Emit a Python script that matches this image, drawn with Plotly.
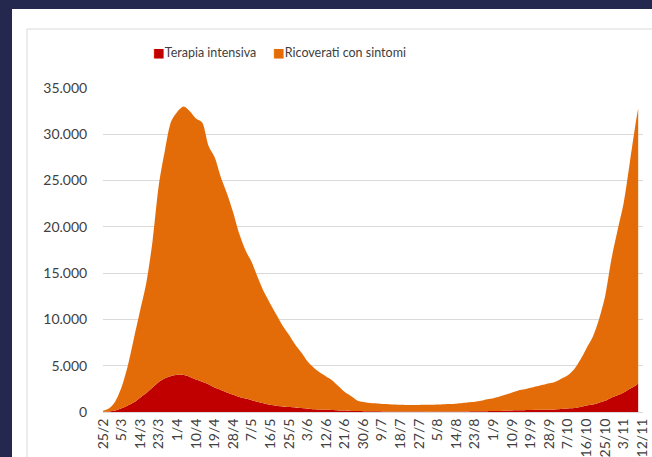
import plotly.graph_objects as go

# ---- data ----
DATES = [
    "2020-02-25", "2020-02-28", "2020-03-02", "2020-03-05", "2020-03-08", "2020-03-11",
    "2020-03-14", "2020-03-17", "2020-03-20", "2020-03-23", "2020-03-26", "2020-03-29",
    "2020-04-01", "2020-04-04", "2020-04-07", "2020-04-10", "2020-04-13", "2020-04-16",
    "2020-04-19", "2020-04-22", "2020-04-25", "2020-04-28", "2020-05-01", "2020-05-04",
    "2020-05-07", "2020-05-10", "2020-05-13", "2020-05-16", "2020-05-19", "2020-05-22",
    "2020-05-25", "2020-05-28", "2020-05-31", "2020-06-03", "2020-06-06", "2020-06-09",
    "2020-06-12", "2020-06-15", "2020-06-18", "2020-06-21", "2020-06-24", "2020-06-27",
    "2020-06-30", "2020-07-03", "2020-07-06", "2020-07-09", "2020-07-12", "2020-07-15",
    "2020-07-18", "2020-07-21", "2020-07-24", "2020-07-27", "2020-07-30", "2020-08-02",
    "2020-08-05", "2020-08-08", "2020-08-11", "2020-08-14", "2020-08-17", "2020-08-20",
    "2020-08-23", "2020-08-26", "2020-08-29", "2020-09-01", "2020-09-04", "2020-09-07",
    "2020-09-10", "2020-09-13", "2020-09-16", "2020-09-19", "2020-09-22", "2020-09-25",
    "2020-09-28", "2020-10-01", "2020-10-04", "2020-10-07", "2020-10-10", "2020-10-13",
    "2020-10-16", "2020-10-19", "2020-10-22", "2020-10-25", "2020-10-28", "2020-10-31",
    "2020-11-03", "2020-11-06", "2020-11-09", "2020-11-10",
]

TERAPIA_INTENSIVA = [
    30, 65, 170, 400, 700, 1050,
    1550, 2050, 2650, 3250, 3650, 3900,
    4035, 3990, 3790, 3500, 3260, 3000,
    2640, 2380, 2100, 1860, 1620, 1450,
    1280, 1080, 930, 780, 680, 600,
    540, 490, 420, 350, 290, 260,
    230, 210, 170, 150, 120, 100,
    90, 75, 70, 65, 60, 55,
    50, 50, 45, 45, 40, 40,
    45, 45, 50, 55, 60, 65,
    70, 75, 85, 95, 120, 140,
    165, 180, 200, 210, 230, 240,
    250, 280, 320, 370, 420, 540,
    700, 800, 1000, 1210, 1540, 1800,
    2100, 2500, 2900, 3080,
]

RICOVERATI_CON_SINTOMI = [
    110, 350, 1000, 2300, 4300, 6950,
    9450, 11950, 15850, 21250, 24650, 27500,
    28400, 29000, 28700, 28200, 28000, 25800,
    24900, 23000, 21500, 19700, 17600, 16000,
    14900, 13400, 12000, 10900, 9800, 8700,
    7800, 6800, 6000, 5100, 4500, 4000,
    3600, 3200, 2600, 2000, 1600, 1150,
    1000, 900, 870, 800, 790, 760,
    730, 710, 720, 720, 730, 740,
    760, 790, 810, 840, 900, 980,
    1050, 1150, 1300, 1400, 1550, 1750,
    1950, 2150, 2250, 2400, 2550, 2700,
    2850, 3000, 3300, 3600, 4200, 5100,
    6200, 7300, 9000, 11300, 14900, 17800,
    20500, 24500, 28600, 29700,
]

TICK_LABELS = [
    "25/2", "5/3", "14/3", "23/3", "1/4", "10/4", "19/4", "28/4", "7/5", "16/5",
    "25/5", "3/6", "12/6", "21/6", "30/6", "9/7", "18/7", "27/7", "5/8", "14/8",
    "23/8", "1/9", "10/9", "19/9", "28/9", "7/10", "16/10", "25/10", "3/11", "12/11",
]

Y_TICKS = [0, 5000, 10000, 15000, 20000, 25000, 30000, 35000]

SERIES_NAMES = ["Terapia intensiva", "Ricoverati con sintomi"]
COLORS = ["#C00000", "#E36C09"]

# ---- figure ----
tick_vals = []
for lab in TICK_LABELS:
    d, m = lab.split("/")
    tick_vals.append(f"2020-{int(m):02d}-{int(d):02d}")

W, H = 652, 457
L, R, T, B = 103, 9, 88, 45
pw, ph = W - L - R, H - T - B


def px(x):
    return (x - L) / pw


def py(y):
    return (H - B - y) / ph


fig = go.Figure()

for name, vals, col in zip(SERIES_NAMES, [TERAPIA_INTENSIVA, RICOVERATI_CON_SINTOMI], COLORS):
    fig.add_trace(go.Scatter(
        x=DATES, y=vals, name=name, stackgroup="one", mode="lines",
        line=dict(width=0, shape="spline", smoothing=0.8),
        fillcolor=col, showlegend=False, hoverinfo="x+y+name",
    ))

font_family = "Lato, 'Open Sans', Arial, sans-serif"

# legend drawn as text swatches (square + label), like the original
legend_x = [151, 271]
annotations = []
for name, col, lx in zip(SERIES_NAMES, COLORS, legend_x):
    annotations.append(dict(
        xref="paper", yref="paper", x=px(lx), y=py(53),
        xanchor="left", yanchor="middle", showarrow=False,
        text=f'<span style="color:{col}; font-family:DejaVu Sans">■</span>{name}',
        font=dict(size=12.5, color="#404040", family=font_family),
    ))

fig.update_layout(
    width=W, height=H,
    margin=dict(l=L, r=R, t=T, b=B, autoexpand=False),
    paper_bgcolor="#24274E",
    plot_bgcolor="white",
    separators=",.",
    font=dict(family=font_family, color="#404040", size=14),
    showlegend=False,
    annotations=annotations,
    xaxis=dict(
        type="date",
        range=["2020-02-25", "2020-11-12 08:00"],
        tickmode="array", tickvals=tick_vals, ticktext=TICK_LABELS,
        tickangle=-90, showgrid=False, zeroline=False,
        showline=True, linecolor="#D9D9D9", linewidth=1,
        ticks="", tickfont=dict(size=14, color="#404040"),
        automargin=False,
    ),
    yaxis=dict(
        range=[0, 35000], tickmode="array", tickvals=Y_TICKS,
        tickformat=",d", showgrid=True, gridcolor="#D9D9D9", gridwidth=1,
        zeroline=False, showline=False,
        ticks="outside", ticklen=12, tickcolor="rgba(0,0,0,0)",
        tickfont=dict(size=14, color="#404040"),
        automargin=False,
    ),
    shapes=[
        dict(type="rect", xref="paper", yref="paper", layer="below",
             x0=px(12), x1=px(W + 20), y0=py(H + 40), y1=py(9),
             fillcolor="white", line=dict(width=0)),
        dict(type="rect", xref="paper", yref="paper", layer="below",
             x0=px(27), x1=px(W + 20), y0=py(H + 40), y1=py(29),
             fillcolor="rgba(0,0,0,0)", line=dict(width=1, color="#D9D9D9")),
    ],
)

fig.write_html("out.html")
